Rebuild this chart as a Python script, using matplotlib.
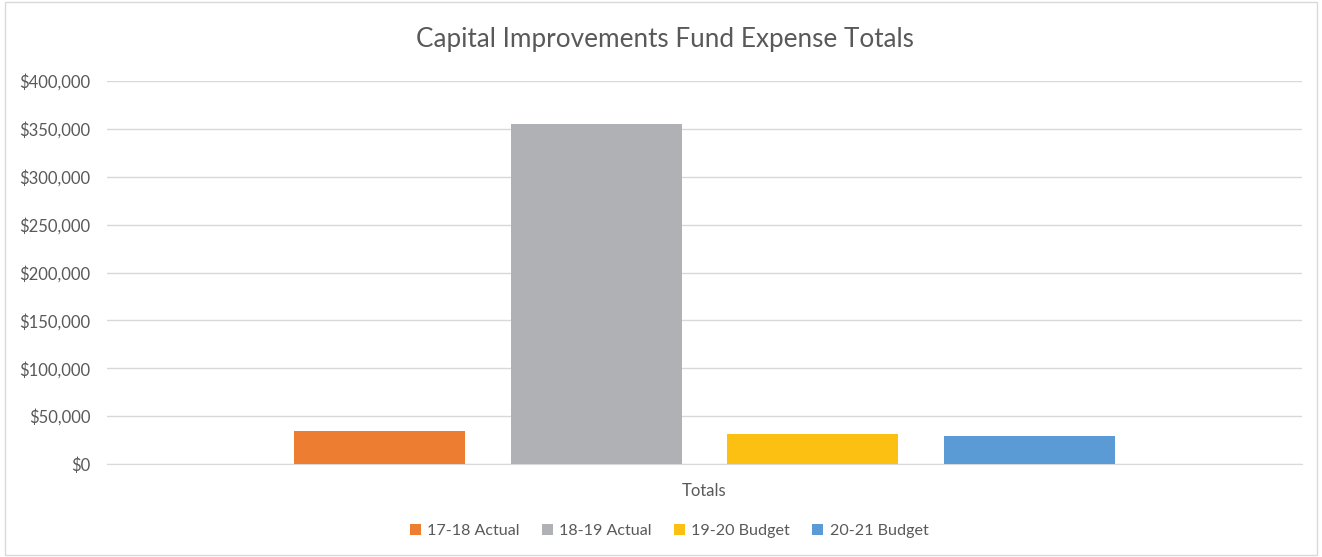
import matplotlib
matplotlib.use("Agg")
import matplotlib.pyplot as plt
from matplotlib.patches import Rectangle
from matplotlib.ticker import FuncFormatter

series = ["17-18 Actual", "18-19 Actual", "19-20 Budget", "20-21 Budget"]
values = [34800, 355000, 31600, 29500]
colors = ["#ED7D31", "#B0B1B4", "#FCC013", "#5B9BD5"]
category = "Totals"

plt.rcParams['font.family'] = ['Lato', 'DejaVu Sans']
W, H = 1322, 557
fig = plt.figure(figsize=(W/100, H/100), dpi=100)
ax = fig.add_axes([107/W, (H-464)/H, (1302-107)/W, (464-81)/H])

step = 216.7/1195
width = 171/1195
n = len(series)
for i, (s, v, c) in enumerate(zip(series, values, colors)):
    ax.bar((i - (n-1)/2)*step, v, width=width, color=c, label=s, zorder=3)

ax.set_xlim(-0.5, 0.5)
ax.set_ylim(0, 400000)
ax.set_yticks(range(0, 400001, 50000))
ax.yaxis.set_major_formatter(FuncFormatter(lambda v, p: f"${v:,.0f}"))
ax.set_xticks([0])
ax.set_xticklabels([category])
ax.grid(axis='y', color='#D9D9D9', linewidth=1, zorder=0)
for sp in ['top', 'right', 'left']:
    ax.spines[sp].set_visible(False)
ax.spines['bottom'].set_color('#D9D9D9')
ax.tick_params(axis='both', length=0, labelsize=12, colors='#595959')
ax.tick_params(axis='y', pad=12)
ax.tick_params(axis='x', pad=14)

fig.text(665/W, 1-40/H, "Capital Improvements Fund Expense Totals", ha='center', va='center',
         fontsize=18.8, color='#595959')

fig.legend(loc='center', bbox_to_anchor=(669/W, 1-531/H), ncol=4, frameon=False,
           fontsize=11.6, labelcolor='#595959', handlelength=0.7, handleheight=0.7,
           handletextpad=0.4, columnspacing=1.35)

fig.patches.append(Rectangle((5/W, 2/H), (W-10)/W, (H-4)/H, transform=fig.transFigure,
                             fill=False, edgecolor='#D9D9D9', linewidth=1))

fig.savefig("out.png", dpi=100)
